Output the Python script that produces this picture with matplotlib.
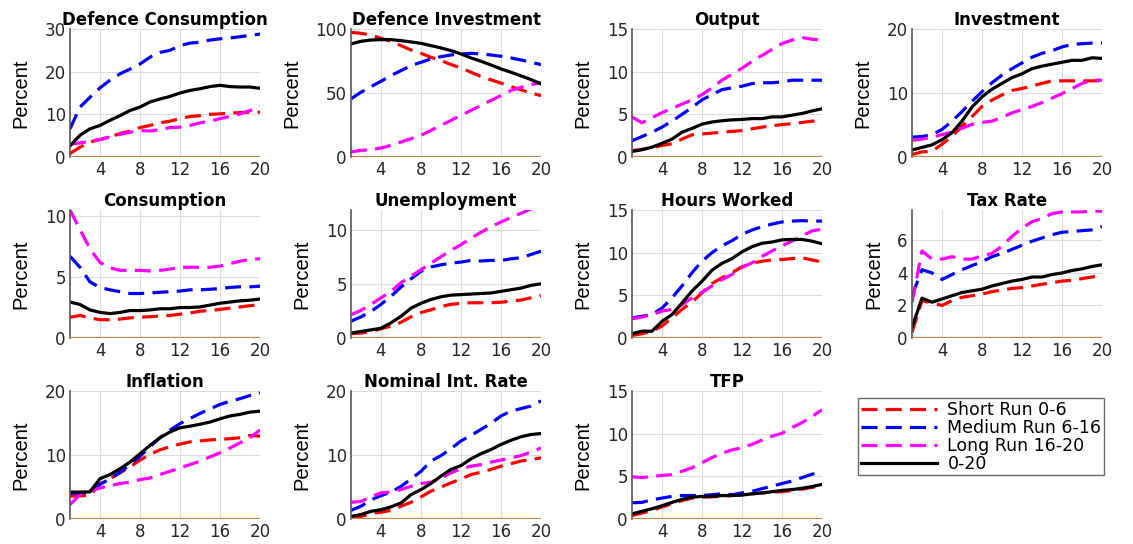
import numpy as np
import matplotlib
matplotlib.use("Agg")
import matplotlib.pyplot as plt
from matplotlib.lines import Line2D

plt.rcParams['font.family'] = ['DejaVu Sans']

horizon = np.arange(1, 21)

titles = ['Defence Consumption', 'Defence Investment', 'Output', 'Investment',
          'Consumption', 'Unemployment', 'Hours Worked', 'Tax Rate',
          'Inflation', 'Nominal Int. Rate', 'TFP']
series_labels = ['Short Run 0-6', 'Medium Run 6-16', 'Long Run 16-20', '0-20']

# each panel: short, medium, long, full sample
defcons_short = [0.8, 2.3, 3.5, 4.1, 4.7, 5.5, 6.1, 6.9, 7.4, 8.0, 8.4, 9.0, 9.5, 9.7, 10.0, 10.1, 10.3, 10.4, 10.5, 10.5]
defcons_medium = [6.6, 11.7, 14.0, 16.2, 18.0, 19.5, 20.6, 21.8, 23.4, 24.5, 25.0, 26.1, 26.7, 26.9, 27.4, 27.7, 27.9, 28.2, 28.5, 28.8]
defcons_long = [3.0, 3.3, 3.7, 4.1, 4.7, 5.3, 5.8, 6.2, 6.1, 6.4, 6.9, 7.0, 7.4, 8.0, 8.4, 9.0, 9.5, 10.1, 10.9, 11.8]
defcons_full = [2.6, 5.1, 6.6, 7.4, 8.6, 9.7, 10.9, 11.7, 12.9, 13.6, 14.2, 15.0, 15.6, 16.0, 16.5, 16.8, 16.5, 16.4, 16.4, 16.1]

definv_short = [97.4, 96.6, 95.3, 92.7, 90.4, 87.0, 83.6, 81.0, 77.9, 75.3, 72.2, 69.6, 66.2, 62.9, 60.3, 57.7, 55.0, 52.5, 49.9, 48.0]
definv_medium = [45.5, 50.6, 55.0, 59.2, 63.6, 67.5, 71.4, 74.0, 76.6, 78.4, 79.7, 80.5, 81.0, 80.5, 79.7, 78.7, 77.4, 75.8, 74.0, 72.2]
definv_long = [3.9, 5.2, 5.7, 7.0, 9.1, 11.7, 14.3, 16.9, 20.8, 24.7, 28.6, 32.5, 36.4, 40.3, 44.2, 48.0, 52.0, 54.5, 56.5, 58.0]
definv_full = [88.3, 90.4, 91.4, 91.7, 91.7, 90.9, 89.9, 88.8, 87.0, 85.2, 83.1, 80.5, 77.4, 74.8, 71.9, 68.8, 66.2, 63.4, 60.5, 57.1]

output_short = [0.75, 0.9, 1.1, 1.35, 1.55, 2.1, 2.6, 2.7, 2.8, 2.9, 3.0, 3.1, 3.3, 3.5, 3.65, 3.8, 3.9, 4.05, 4.2, 4.25]
output_medium = [1.9, 2.4, 2.9, 3.5, 4.2, 5.0, 5.8, 6.7, 7.3, 7.9, 8.1, 8.3, 8.6, 8.7, 8.7, 8.8, 9.0, 9.0, 9.0, 9.0]
output_long = [4.7, 4.0, 4.6, 5.2, 5.7, 6.2, 6.7, 7.3, 8.1, 9.0, 9.7, 10.4, 11.2, 11.9, 12.6, 13.3, 13.7, 14.0, 13.8, 13.7]
output_full = [0.65, 0.85, 1.15, 1.6, 2.1, 2.9, 3.35, 3.85, 4.1, 4.25, 4.35, 4.4, 4.5, 4.5, 4.7, 4.7, 4.9, 5.1, 5.4, 5.65]

invest_short = [0.4, 0.8, 0.9, 2.0, 3.2, 4.8, 6.3, 7.9, 8.9, 9.7, 10.4, 10.7, 11.1, 11.5, 11.9, 11.9, 11.9, 11.9, 11.9, 11.9]
invest_medium = [3.1, 3.2, 3.5, 4.3, 5.6, 7.1, 8.7, 10.2, 11.6, 12.8, 13.8, 14.7, 15.6, 16.2, 16.6, 17.2, 17.6, 17.7, 17.8, 17.8]
invest_long = [2.6, 2.8, 3.1, 3.5, 3.9, 4.5, 5.1, 5.4, 5.6, 6.2, 6.9, 7.4, 7.9, 8.5, 9.2, 9.9, 10.7, 11.5, 12.0, 12.0]
invest_full = [1.1, 1.5, 1.9, 2.7, 3.8, 5.6, 7.8, 9.4, 10.6, 11.5, 12.4, 13.0, 13.8, 14.2, 14.5, 14.8, 15.1, 15.1, 15.5, 15.4]

cons_short = [1.7, 1.85, 1.65, 1.5, 1.5, 1.55, 1.65, 1.7, 1.75, 1.8, 1.85, 1.95, 2.05, 2.2, 2.25, 2.35, 2.45, 2.55, 2.65, 2.75]
cons_medium = [6.7, 5.8, 4.6, 4.15, 3.95, 3.8, 3.65, 3.65, 3.7, 3.75, 3.8, 3.85, 3.95, 3.95, 4.0, 4.05, 4.15, 4.2, 4.2, 4.25]
cons_long = [10.5, 8.9, 7.3, 6.2, 5.75, 5.55, 5.55, 5.55, 5.5, 5.55, 5.65, 5.8, 5.8, 5.8, 5.8, 5.9, 6.1, 6.3, 6.45, 6.5]
cons_full = [2.95, 2.75, 2.3, 2.1, 2.0, 2.1, 2.25, 2.25, 2.3, 2.4, 2.4, 2.5, 2.5, 2.55, 2.7, 2.85, 2.95, 3.05, 3.1, 3.2]

unemp_short = [0.4, 0.45, 0.6, 0.85, 1.1, 1.45, 1.95, 2.35, 2.6, 2.9, 3.1, 3.2, 3.25, 3.25, 3.25, 3.3, 3.4, 3.5, 3.7, 3.9]
unemp_medium = [1.55, 1.95, 2.45, 3.1, 3.85, 4.7, 5.45, 6.15, 6.55, 6.75, 6.9, 7.0, 7.15, 7.1, 7.15, 7.15, 7.3, 7.4, 7.7, 8.0]
unemp_long = [2.15, 2.55, 3.1, 3.7, 4.3, 5.1, 5.7, 6.3, 6.9, 7.5, 8.1, 8.6, 9.2, 9.75, 10.25, 10.7, 11.1, 11.5, 11.9, 12.3]
unemp_full = [0.45, 0.6, 0.75, 0.9, 1.4, 2.0, 2.75, 3.2, 3.55, 3.8, 3.95, 4.0, 4.05, 4.1, 4.15, 4.3, 4.45, 4.6, 4.85, 5.0]

hours_short = [0.3, 0.5, 0.8, 1.4, 2.35, 3.35, 4.2, 5.3, 6.4, 7.05, 7.65, 8.35, 8.75, 9.0, 9.15, 9.2, 9.3, 9.4, 9.15, 8.9]
hours_medium = [2.35, 2.55, 2.75, 3.5, 4.7, 6.1, 7.65, 9.0, 10.0, 10.8, 11.4, 12.15, 12.65, 13.05, 13.35, 13.6, 13.7, 13.75, 13.7, 13.7]
hours_long = [2.25, 2.45, 2.75, 3.15, 3.35, 3.9, 4.7, 5.35, 6.1, 6.85, 7.45, 8.25, 8.8, 9.55, 10.2, 10.8, 11.35, 11.95, 12.55, 12.75]
hours_full = [0.5, 0.8, 0.8, 1.95, 2.75, 4.1, 5.5, 6.65, 7.95, 8.75, 9.3, 10.1, 10.7, 11.1, 11.25, 11.5, 11.55, 11.55, 11.35, 11.05]

tax_short = [0.35, 2.3, 2.15, 2.0, 2.3, 2.5, 2.6, 2.7, 2.85, 2.95, 3.05, 3.1, 3.2, 3.3, 3.4, 3.5, 3.55, 3.65, 3.75, 3.85]
tax_medium = [2.6, 4.2, 4.0, 3.6, 3.9, 4.2, 4.45, 4.7, 5.0, 5.2, 5.45, 5.7, 5.95, 6.15, 6.35, 6.5, 6.55, 6.6, 6.65, 6.85]
tax_long = [2.2, 5.35, 4.85, 4.85, 5.0, 4.85, 4.85, 5.05, 5.2, 5.65, 6.25, 6.75, 7.15, 7.35, 7.65, 7.75, 7.75, 7.75, 7.8, 7.8]
tax_full = [0.65, 2.45, 2.2, 2.4, 2.6, 2.8, 2.9, 3.0, 3.2, 3.35, 3.5, 3.6, 3.75, 3.75, 3.9, 4.0, 4.15, 4.25, 4.4, 4.5]

infl_short = [3.55, 3.65, 3.65, 5.5, 6.3, 7.2, 8.15, 9.2, 10.1, 10.8, 11.3, 11.7, 12.05, 12.2, 12.35, 12.45, 12.55, 12.7, 13.05, 12.95]
infl_medium = [4.0, 4.05, 4.2, 5.4, 6.3, 7.3, 8.5, 9.8, 11.3, 12.7, 13.9, 14.9, 15.7, 16.5, 17.2, 17.9, 18.4, 18.8, 19.3, 19.7]
infl_long = [2.25, 3.8, 4.35, 4.85, 5.2, 5.55, 5.75, 6.15, 6.4, 6.95, 7.45, 8.0, 8.5, 9.05, 9.7, 10.35, 11.1, 11.9, 12.7, 13.9]
infl_full = [4.2, 4.2, 4.25, 6.3, 6.95, 7.85, 8.9, 10.2, 11.5, 12.7, 13.6, 14.25, 14.5, 14.8, 15.15, 15.65, 16.1, 16.35, 16.7, 16.85]

rate_short = [0.15, 0.4, 0.85, 1.05, 1.35, 2.0, 2.6, 3.45, 4.35, 5.0, 5.65, 6.25, 6.95, 7.3, 7.75, 8.25, 8.65, 9.05, 9.3, 9.55]
rate_medium = [1.35, 2.0, 3.0, 3.65, 4.2, 5.1, 6.25, 7.45, 9.05, 9.9, 11.0, 12.2, 13.05, 14.0, 14.95, 16.1, 16.85, 17.25, 17.65, 18.45]
rate_long = [2.6, 2.75, 3.45, 4.1, 4.2, 4.6, 5.1, 5.55, 5.75, 6.4, 7.2, 7.85, 8.25, 8.5, 8.9, 9.2, 9.55, 9.9, 10.45, 11.1]
rate_full = [0.4, 0.7, 1.2, 1.45, 1.9, 2.5, 3.8, 4.6, 5.55, 6.7, 7.75, 8.35, 9.4, 10.2, 10.85, 11.65, 12.3, 12.85, 13.2, 13.35]

tfp_short = [0.4, 0.7, 1.0, 1.4, 1.8, 2.15, 2.45, 2.55, 2.6, 2.65, 2.75, 2.85, 2.95, 3.05, 3.15, 3.2, 3.35, 3.5, 3.7, 3.85]
tfp_medium = [1.9, 1.95, 2.25, 2.45, 2.65, 2.75, 2.75, 2.75, 2.85, 2.95, 2.85, 3.05, 3.25, 3.55, 3.85, 4.15, 4.45, 4.85, 5.25, 5.6]
tfp_long = [4.95, 4.85, 5.0, 5.1, 5.2, 5.6, 6.0, 6.6, 7.2, 7.7, 8.1, 8.35, 8.75, 9.25, 9.7, 10.05, 10.7, 11.3, 12.0, 12.8]
tfp_full = [0.6, 0.9, 1.2, 1.55, 1.95, 2.3, 2.55, 2.65, 2.65, 2.75, 2.75, 2.8, 2.95, 3.05, 3.2, 3.35, 3.45, 3.6, 3.8, 4.05]

panels = [
    (defcons_short, defcons_medium, defcons_long, defcons_full),
    (definv_short, definv_medium, definv_long, definv_full),
    (output_short, output_medium, output_long, output_full),
    (invest_short, invest_medium, invest_long, invest_full),
    (cons_short, cons_medium, cons_long, cons_full),
    (unemp_short, unemp_medium, unemp_long, unemp_full),
    (hours_short, hours_medium, hours_long, hours_full),
    (tax_short, tax_medium, tax_long, tax_full),
    (infl_short, infl_medium, infl_long, infl_full),
    (rate_short, rate_medium, rate_long, rate_full),
    (tfp_short, tfp_medium, tfp_long, tfp_full),
]
ylims = [30, 100, 15, 20, 10.5, 11.8, 15, 7.87, 20, 20, 15]
yticks = [[0, 10, 20, 30], [0, 50, 100], [0, 5, 10, 15], [0, 10, 20],
          [0, 5, 10], [0, 5, 10], [0, 5, 10, 15], [0, 2, 4, 6],
          [0, 10, 20], [0, 10, 20], [0, 5, 10, 15]]

colors = ['#ff0000', '#0000ff', '#ff00ff', '#000000']
dash = (0, (5, 2.6))
styles = [dash, dash, dash, '-']

fig = plt.figure(figsize=(11.33, 5.44), dpi=100)
W, H = 1133, 544
col_left = [70, 351, 632, 912]
row_top = [29, 210, 391]
ax_w, ax_h = 190, 128

for i, title in enumerate(titles):
    r, c = divmod(i, 4)
    ax = fig.add_axes([col_left[c] / W, 1 - (row_top[r] + ax_h) / H, ax_w / W, ax_h / H])
    for data, col, ls in zip(panels[i], colors, styles):
        ax.plot(horizon, data, color=col, linestyle=ls, linewidth=2.3)
    ax.axhline(0, color='#c8843c', linewidth=1.6, zorder=5)
    ax.set_xlim(1, 20)
    ax.set_ylim(0, ylims[i])
    ax.set_xticks([4, 8, 12, 16, 20])
    ax.set_yticks(yticks[i])
    ax.grid(True, color='#dcdcdc', linewidth=0.8)
    ax.set_axisbelow(True)
    for s in ['top', 'right', 'bottom']:
        ax.spines[s].set_visible(False)
    ax.spines['left'].set_color('#555555')
    ax.spines['left'].set_linewidth(1.2)
    ax.tick_params(axis='both', direction='in', length=0, labelsize=12,
                   labelcolor='#262626', pad=3)
    ax.set_title(title, fontsize=12, fontweight='bold', pad=3)
    ax.set_ylabel('Percent', fontsize=14.5, labelpad=10, family='Liberation Sans')

handles = [Line2D([], [], color=col, linestyle=ls, linewidth=2.3) for col, ls in zip(colors, styles)]
leg = fig.legend(handles, series_labels, loc='upper left',
                 bbox_to_anchor=(858 / W, 1 - 398 / H), borderaxespad=0,
                 fontsize=12.5, handlelength=4.4, frameon=True, fancybox=False,
                 borderpad=0.15, labelspacing=0.0, handletextpad=0.6)
leg.get_frame().set_edgecolor('#444444')
leg.get_frame().set_linewidth(1.0)

fig.savefig('out.png', dpi=100)
